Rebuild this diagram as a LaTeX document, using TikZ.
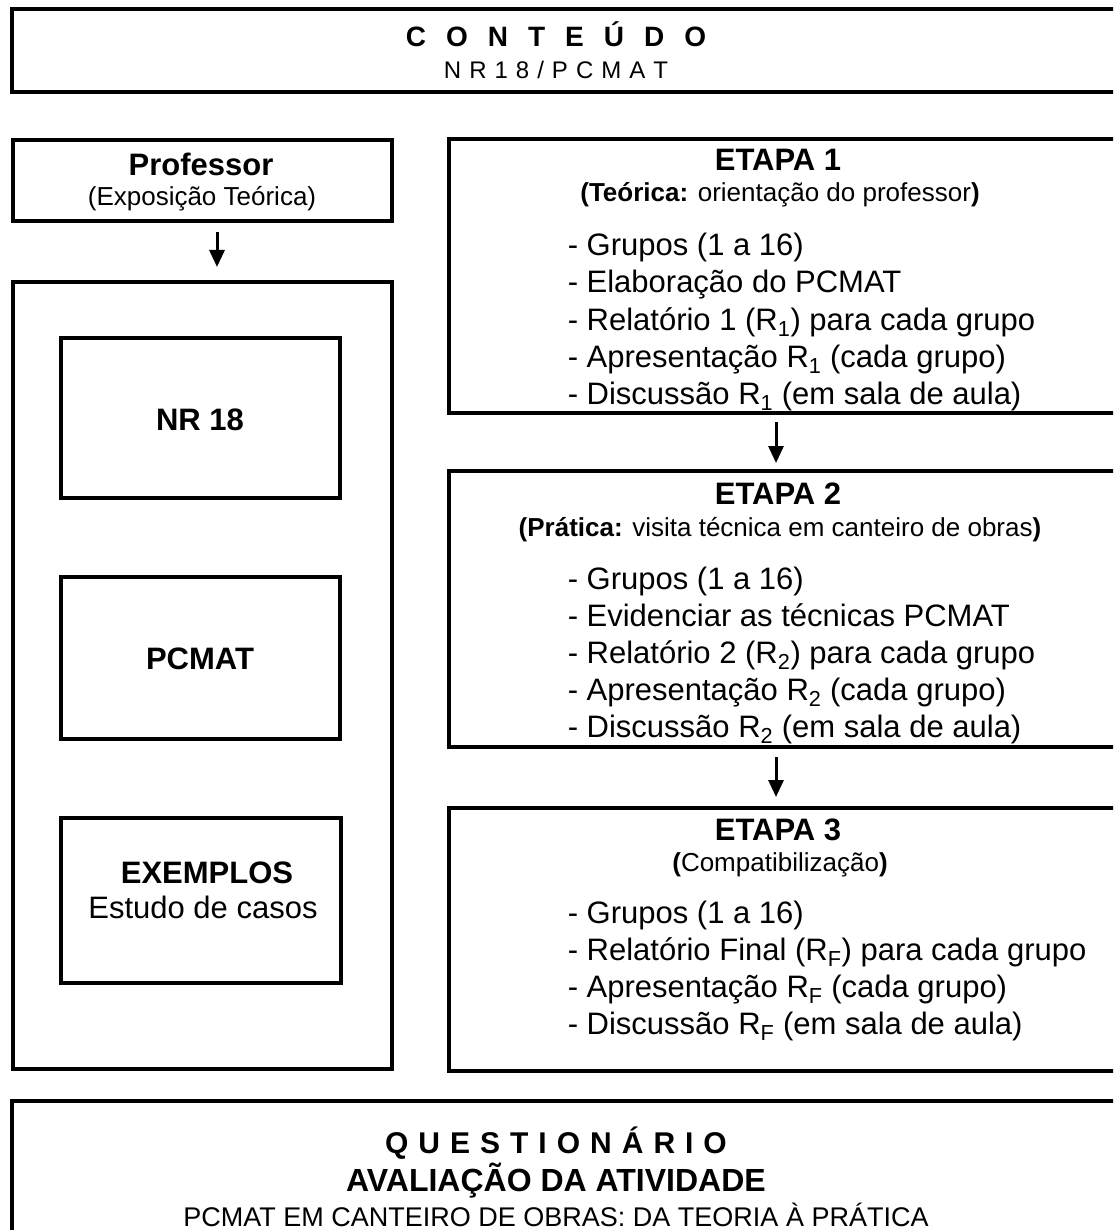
\documentclass[tikz,border=0pt]{standalone}
\usepackage{fontspec}
\setmainfont{Liberation Sans}
\usetikzlibrary{arrows.meta,positioning}

\begin{document}
\begin{tikzpicture}[x=1pt,y=-1pt,line width=3.5pt,
    box/.style={draw,rectangle,inner sep=0pt,outer sep=0pt,anchor=north west},
    headtext/.style={inner sep=0pt,anchor=base,font=\bfseries\fontsize{31}{37}\selectfont},
    subtext/.style={inner sep=0pt,anchor=base,font=\fontsize{26}{31}\selectfont},
    listitem/.style={inner sep=0pt,anchor=base west,font=\fontsize{31}{37}\selectfont},
    flowarrow/.style={-{Triangle[length=17pt,width=15pt]},line width=3pt}]

  \useasboundingbox (0,0) rectangle (1113,1230);
  \clip (0,0) rectangle (1113,1230);

  % frames
  \node[box,minimum width=1113pt,minimum height=83pt] (top) at (12,9) {};
  \node[box,minimum width=379pt,minimum height=81pt] (prof) at (13,140) {};
  \node[box,minimum width=379pt,minimum height=787pt] (left) at (13,282) {};
  \node[box,minimum width=279pt,minimum height=160pt] (nr) at (61,338) {};
  \node[box,minimum width=279pt,minimum height=162pt] (pc) at (61,577) {};
  \node[box,minimum width=280pt,minimum height=165pt] (ex) at (61,818) {};
  \node[box,minimum width=676pt,minimum height=274pt] (e1) at (449,139) {};
  \node[box,minimum width=676pt,minimum height=276pt] (e2) at (449,471) {};
  \node[box,minimum width=676pt,minimum height=263pt] (e3) at (449,808) {};
  \node[box,minimum width=1113pt,minimum height=140pt] (bot) at (12,1101) {};

  % top
  \node[headtext,font=\bfseries\fontsize{28}{34}\selectfont] (conteudo) at (556,47) {\spaceskip=20pt C O N T E Ú D O};
  \node[subtext,font=\fontsize{24}{29}\selectfont] (nrpcmat) at (556,79) {\spaceskip=8pt N R 1 8 / P C M A T};

  % left column
  \node[headtext] (proft) at (201,176) {Professor};
  \node[subtext] (profs) at (202,206) {(Exposição Teórica)};
  \node[headtext] (nrt) at (200,430) {NR 18};
  \node[headtext] (pct) at (200,669) {PCMAT};
  \node[headtext] (ext) at (207,883) {EXEMPLOS};
  \node[listitem,anchor=base] (exs) at (203,918) {Estudo de casos};

  % etapas
  \node[headtext] (e1t) at (778,171) {ETAPA 1};
  \node[subtext] (e1s) at (780,202) {\textbf{(Teórica:} orientação do professor\textbf{)}};
  \foreach \itm [count=\i] in {{- Grupos (1 a 16)},{- Elaboração do PCMAT},
      {- Relatório 1 (R\textsubscript{1}) para cada grupo},
      {- Apresentação R\textsubscript{1} (cada grupo)},
      {- Discussão R\textsubscript{1} (em sala de aula)}}
    \node[listitem] (e1-\i) at (566,{219+37*\i}) {\itm};

  \node[headtext] (e2t) at (778,504) {ETAPA 2};
  \node[subtext] (e2s) at (780,536) {\textbf{(Prática:} visita técnica em canteiro de obras\textbf{)}};
  \foreach \itm [count=\i] in {{- Grupos (1 a 16)},{- Evidenciar as técnicas PCMAT},
      {- Relatório 2 (R\textsubscript{2}) para cada grupo},
      {- Apresentação R\textsubscript{2} (cada grupo)},
      {- Discussão R\textsubscript{2} (em sala de aula)}}
    \node[listitem] (e2-\i) at (566,{552+37*\i}) {\itm};

  \node[headtext] (e3t) at (778,840) {ETAPA 3};
  \node[subtext] (e3s) at (780,871) {\textbf{(}Compatibilização\textbf{)}};
  \foreach \itm [count=\i] in {{- Grupos (1 a 16)},
      {- Relatório Final (R\textsubscript{F}) para cada grupo},
      {- Apresentação R\textsubscript{F} (cada grupo)},
      {- Discussão R\textsubscript{F} (em sala de aula)}}
    \node[listitem] (e3-\i) at (566,{886+37*\i}) {\itm};

  % bottom
  \node[headtext,font=\bfseries\fontsize{30}{36}\selectfont] (quest) at (556,1153) {\spaceskip=10pt Q U E S T I O N Á R I O};
  \node[headtext,font=\bfseries\fontsize{32}{38}\selectfont] (aval) at (556,1191) {AVALIAÇÃO DA ATIVIDADE};
  \node[subtext,font=\fontsize{27}{32}\selectfont,text depth=0pt] (tema) at (556,1226) {PCMAT EM CANTEIRO DE OBRAS: DA TEORIA À PRÁTICA};

  % arrows
  \draw[flowarrow,shorten <=11pt,shorten >=15pt] ([xshift=14.5pt]prof.south) -- ([xshift=14.5pt]left.north);
  \draw[flowarrow,shorten <=9pt,shorten >=8pt] ([xshift=-11pt]e1.south) -- ([xshift=-11pt]e2.north);
  \draw[flowarrow,shorten <=10pt,shorten >=11pt] ([xshift=-11pt]e2.south) -- ([xshift=-11pt]e3.north);
\end{tikzpicture}
\end{document}
